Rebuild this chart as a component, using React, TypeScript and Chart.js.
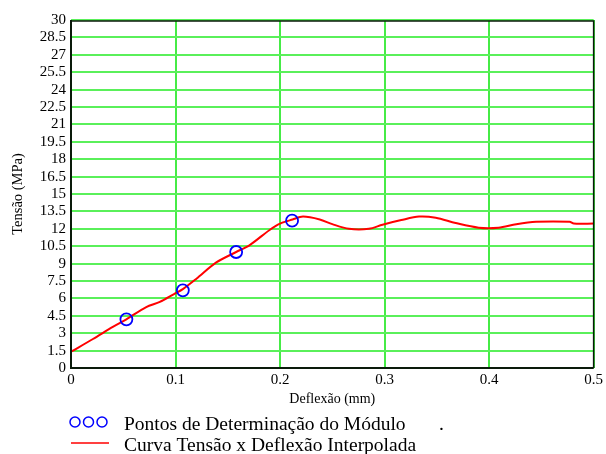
import React, { useEffect, useRef } from "react";
import { Chart, registerables } from "chart.js";

Chart.register(...registerables);

// Deflection (mm) vs. stress (MPa) curve
const curveX = [0, 0.021, 0.04, 0.053, 0.072, 0.085, 0.099, 0.107, 0.12, 0.139, 0.158, 0.171, 0.19, 0.2, 0.212, 0.222, 0.238, 0.25, 0.266, 0.285, 0.298, 0.316, 0.333, 0.349, 0.368, 0.39, 0.409, 0.426, 0.445, 0.477, 0.481, 0.5];
const curveY = [1.4, 2.5, 3.55, 4.2, 5.25, 5.7, 6.4, 6.8, 7.7, 9.1, 10.0, 10.6, 11.9, 12.45, 12.8, 13.05, 12.8, 12.4, 12.0, 12.0, 12.35, 12.75, 13.05, 12.95, 12.5, 12.1, 12.1, 12.4, 12.6, 12.6, 12.45, 12.45];

// Points used to determine the modulus
const pointsX = [0.053, 0.107, 0.158, 0.2115];
const pointsY = [4.2, 6.7, 10.0, 12.7];

const xTicks = [0, 0.1, 0.2, 0.3, 0.4, 0.5];
const yTicks = [0, 1.5, 3, 4.5, 6, 7.5, 9, 10.5, 12, 13.5, 15, 16.5, 18, 19.5, 21, 22.5, 24, 25.5, 27, 28.5, 30];

const legendPoints = "Pontos de Determinação do Módulo";
const legendCurve = "Curva Tensão x Deflexão Interpolada";
const xTitle = "Deflexão (mm)";
const yTitle = "Tensão (MPa)";

const SERIF = "'Liberation Serif', 'Times New Roman', serif";

const frameAndLegend = {
  id: "frameAndLegend",
  afterDraw(chart: any) {
    const { ctx, chartArea: a } = chart;
    ctx.save();
    ctx.strokeStyle = "#0a1a0a";
    ctx.lineWidth = 2;
    ctx.beginPath();
    ctx.moveTo(a.left, a.top);
    ctx.lineTo(a.left, a.bottom);
    ctx.lineTo(a.right, a.bottom);
    ctx.stroke();
    ctx.lineWidth = 1.5;
    ctx.beginPath();
    ctx.moveTo(a.left, a.top + 1);
    ctx.lineTo(a.right, a.top + 1);
    ctx.lineTo(a.right, a.bottom);
    ctx.stroke();

    // legend
    ctx.strokeStyle = "#0000ff";
    ctx.lineWidth = 1.5;
    [75, 88.5, 102].forEach((cx) => {
      ctx.beginPath();
      ctx.arc(cx, 422, 5, 0, Math.PI * 2);
      ctx.stroke();
    });
    ctx.strokeStyle = "#ff0000";
    ctx.lineWidth = 1.5;
    ctx.beginPath();
    ctx.moveTo(71, 443);
    ctx.lineTo(109, 443);
    ctx.stroke();

    ctx.fillStyle = "#000";
    ctx.font = `19.5px ${SERIF}`;
    ctx.textBaseline = "alphabetic";
    ctx.textAlign = "left";
    ctx.fillText(legendPoints, 124, 430);
    ctx.fillText(".", 439, 430);
    ctx.fillText(legendCurve, 124, 451);
    ctx.restore();
  },
};

export default function App() {
  const ref = useRef<HTMLCanvasElement>(null);

  useEffect(() => {
    const chart = new Chart(ref.current!, {
      type: "scatter",
      data: {
        datasets: [
          {
            label: legendPoints,
            data: pointsX.map((x, i) => ({ x, y: pointsY[i] })),
            showLine: false,
            pointStyle: "circle",
            pointRadius: 6,
            borderColor: "#0000ff",
            backgroundColor: "rgba(0,0,0,0)",
            borderWidth: 1.8,
          },
          {
            label: legendCurve,
            data: curveX.map((x, i) => ({ x, y: curveY[i] })),
            showLine: true,
            borderColor: "#ff0000",
            borderWidth: 2,
            pointRadius: 0,
            tension: 0.3,
          },
        ],
      },
      options: {
        animation: false,
        responsive: true,
        maintainAspectRatio: false,
        layout: { padding: { left: 0, right: 12, top: 20, bottom: 46 } },
        plugins: { legend: { display: false }, tooltip: { enabled: false } },
        scales: {
          x: {
            type: "linear",
            min: 0,
            max: 0.5,
            afterFit: (s: any) => { s.height = 40; },
            afterBuildTicks: (s: any) => { s.ticks = xTicks.map((v) => ({ value: v })); },
            ticks: {
              padding: 3,
              color: "#000",
              font: { family: SERIF, size: 15 },
              callback: (v: any) => String(Number(Number(v).toFixed(2))),
            },
            grid: { color: "rgb(70,235,70)", lineWidth: 2, drawTicks: false },
            border: { display: false },
            title: { display: true, text: xTitle, color: "#000", font: { family: SERIF, size: 14 }, padding: { top: 0, bottom: 0 } },
          },
          y: {
            type: "linear",
            min: 0,
            max: 30,
            afterFit: (s: any) => { s.width = 71; },
            afterBuildTicks: (s: any) => { s.ticks = yTicks.map((v) => ({ value: v })); },
            ticks: {
              padding: 5,
              autoSkip: false,
              color: "#000",
              font: { family: SERIF, size: 15 },
              callback: (v: any) => String(Number(Number(v).toFixed(1))),
            },
            grid: { color: "rgb(90,240,90)", lineWidth: 2, drawTicks: false },
            border: { display: false },
            title: { display: true, text: yTitle, color: "#000", font: { family: SERIF, size: 14.5 }, padding: { top: 9, bottom: 0 } },
          },
        },
      },
      plugins: [frameAndLegend],
    });
    return () => chart.destroy();
  }, []);

  return (
    <div style={{ position: "fixed", left: 0, top: 0, width: 606, height: 454, background: "#fff" }}>
      <canvas ref={ref} />
    </div>
  );
}
